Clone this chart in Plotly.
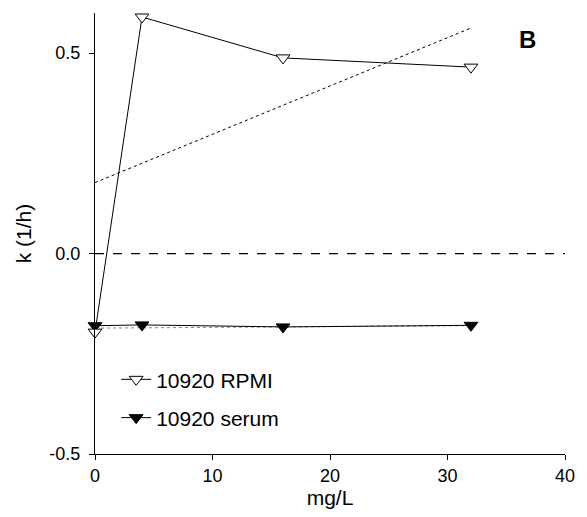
import plotly.graph_objects as go

# Data
conc = [0, 4, 16, 32]
rpmi_k = [-0.196, 0.59, 0.488, 0.465]
serum_k = [-0.18, -0.178, -0.183, -0.179]

fit_x = [0, 32]
rpmi_fit = [0.177, 0.5625]
serum_fit = [-0.186, -0.180]

zero_x = [0, 40]
zero_y = [0, 0]

x_ticks = [0, 10, 20, 30, 40]
y_ticks = [-0.5, 0.0, 0.5]
y_tick_labels = ["-0.5", "0.0", "0.5"]

FONT = "Arial, Liberation Sans, sans-serif"

fig = go.Figure()

fig.add_trace(go.Scatter(x=fit_x, y=rpmi_fit, mode="lines",
                         line=dict(color="black", width=1, dash="dot"),
                         showlegend=False, hoverinfo="skip"))
fig.add_trace(go.Scatter(x=fit_x, y=serum_fit, mode="lines",
                         line=dict(color="#888888", width=1, dash="dot"),
                         showlegend=False, hoverinfo="skip"))
fig.add_trace(go.Scatter(x=zero_x, y=zero_y, mode="lines",
                         line=dict(color="black", width=1.2, dash="dash"),
                         showlegend=False, hoverinfo="skip", cliponaxis=False))

fig.add_trace(go.Scatter(x=conc, y=serum_k, mode="lines+markers", name="10920 serum",
                         legendgroup="b", legendrank=2,
                         line=dict(color="black", width=1),
                         marker=dict(symbol="triangle-down", size=12, color="black",
                                     line=dict(color="black", width=1)),
                         cliponaxis=False))
fig.add_trace(go.Scatter(x=conc, y=rpmi_k, mode="lines+markers", name="10920 RPMI",
                         legendgroup="a", legendrank=1,
                         line=dict(color="black", width=1),
                         marker=dict(symbol="triangle-down", size=12, color="white",
                                     line=dict(color="black", width=1)),
                         cliponaxis=False))

fig.add_annotation(x=36.85, y=0.535, text="<b>B</b>", showarrow=False,
                   font=dict(family=FONT, size=24, color="black"))

fig.update_layout(
    width=587, height=517,
    margin=dict(l=95, r=17, t=13, b=63),
    paper_bgcolor="white", plot_bgcolor="white",
    font=dict(family=FONT, size=18, color="black"),
    legend=dict(x=0.045, y=0.215, xanchor="left", yanchor="top",
                font=dict(family=FONT, size=21, color="black"),
                bgcolor="rgba(0,0,0,0)", traceorder="grouped",
                tracegroupgap=8, itemwidth=30),
    xaxis=dict(range=[0, 40], tickvals=x_ticks, showgrid=False, zeroline=False,
               showline=True, linecolor="black", linewidth=1,
               ticks="outside", ticklen=5, tickcolor="black",
               tickfont=dict(family=FONT, size=18),
               title=dict(text="mg/L", font=dict(family=FONT, size=21), standoff=4)),
    yaxis=dict(range=[-0.5, 0.6], tickvals=y_ticks, ticktext=y_tick_labels,
               showgrid=False, zeroline=False,
               showline=True, linecolor="black", linewidth=1,
               ticks="outside", ticklen=5, tickcolor="black",
               ticklabelstandoff=5,
               tickfont=dict(family=FONT, size=18),
               title=dict(text="k (1/h)", font=dict(family=FONT, size=21), standoff=12)),
)

fig.write_html("out.html")
